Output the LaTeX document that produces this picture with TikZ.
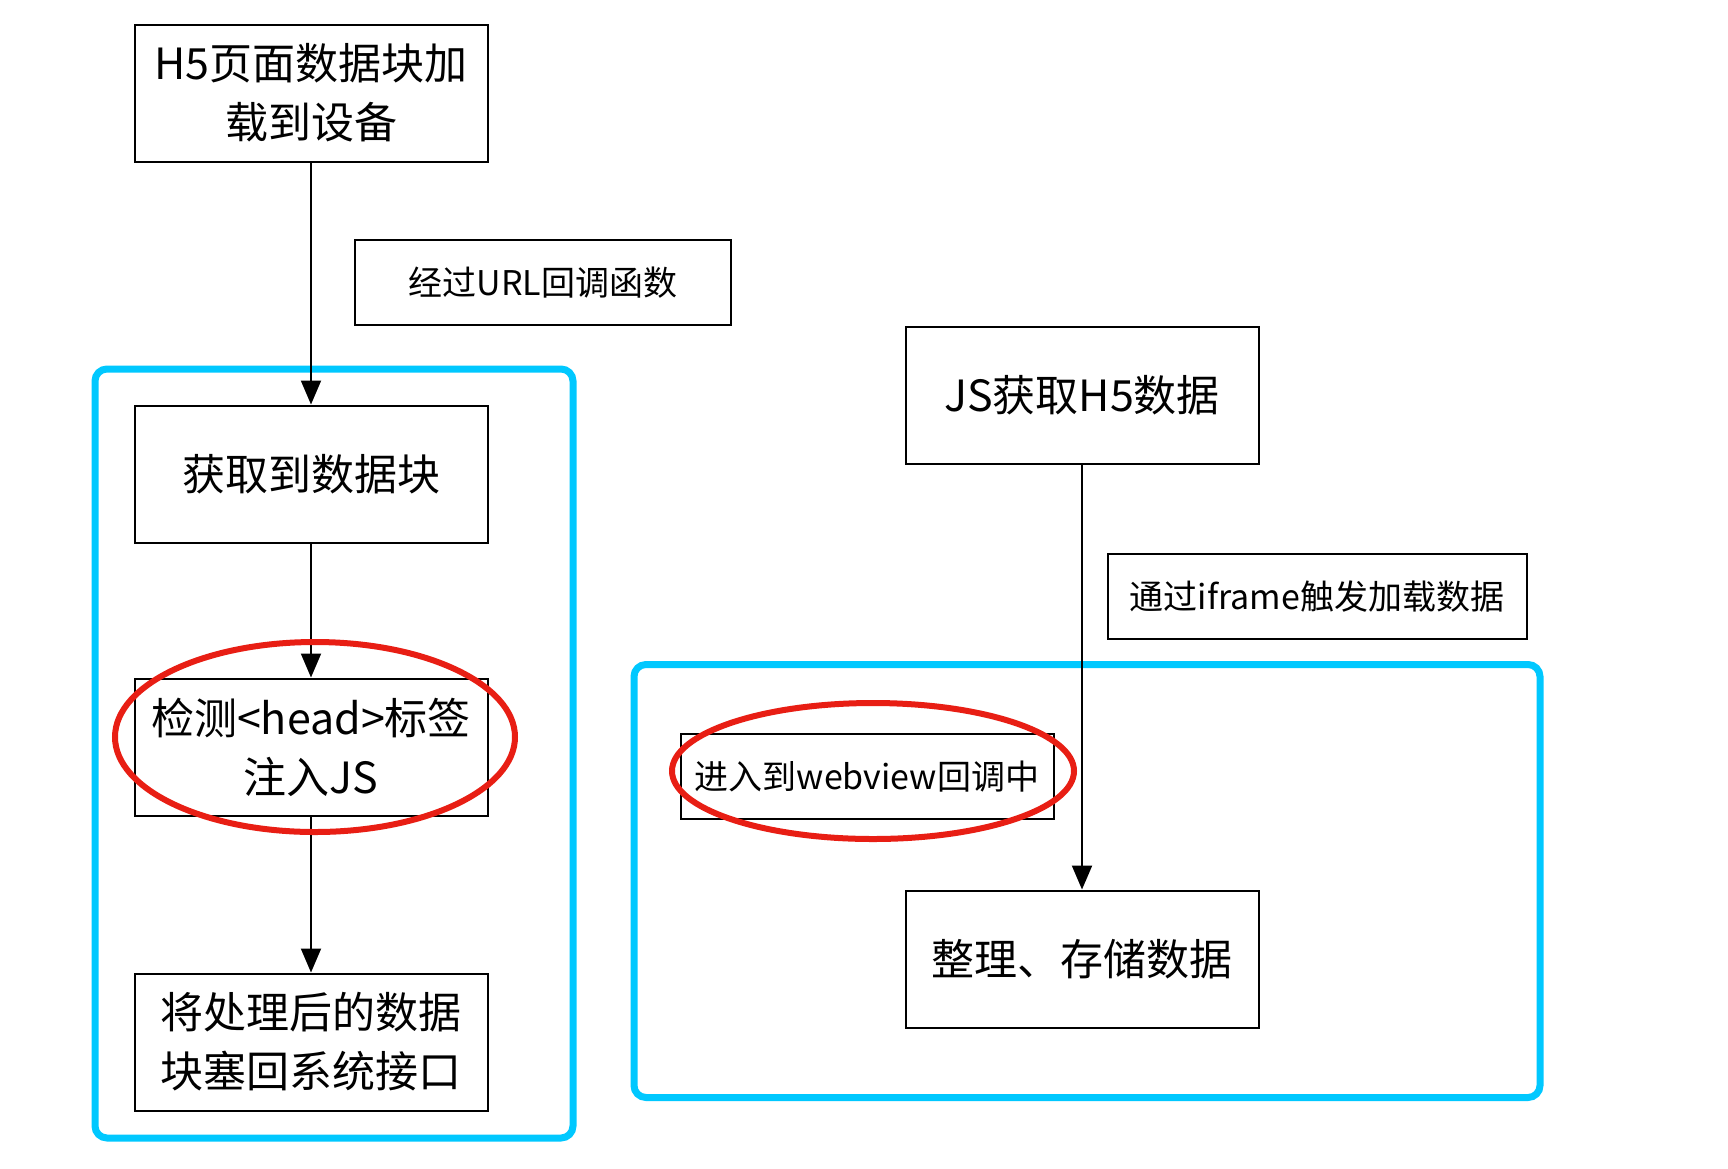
\documentclass[tikz,border=0pt]{standalone}
\usepackage{fontspec}
\setmainfont{Noto Sans CJK SC}
\usetikzlibrary{arrows.meta}
\definecolor{cyanbox}{RGB}{0,200,255}
\definecolor{redring}{RGB}{232,30,20}
\begin{document}
\begin{tikzpicture}[x=1pt,y=-1pt,
  box/.style={draw=black,line width=2pt,inner sep=0pt,align=center,minimum width=353pt,minimum height=137pt,font=\fontsize{43}{59}\selectfont},
  small/.style={draw=black,line width=2pt,inner sep=0pt,align=center,minimum height=85pt,font=\fontsize{34}{40}\selectfont},
  flow/.style={line width=2pt,-{Triangle[length=24pt,width=20pt]}},
  group/.style={draw=cyanbox,line width=7pt,rounded corners=12pt},
  ring/.style={draw=redring,line width=6pt}]
\useasboundingbox[fill=white] (0,0) rectangle (1728,1168);
% groups
\draw[group] (95,369) rectangle (573,1138);
\draw[group] (634,664.5) rectangle (1540,1097.5);
% left column
\node[box] (a) at (311,93) {H5页面数据块加\\载到设备};
\node[small,minimum width=376pt] (url) at (543,282.5) {经过URL回调函数};
\node[box] (b) at (311,474) {获取到数据块};
\node[box] (c) at (311,747) {检测<head>标签\\注入JS};
\node[box] (d) at (311,1042) {将处理后的数据\\块塞回系统接口};
% right column
\node[box] (js) at (1082,395) {JS获取H5数据};
\node[small,minimum width=419pt] (ifr) at (1317,596.5) {通过iframe触发加载数据};
\node[small,minimum width=373pt] (wv) at (867,776.5) {进入到webview回调中};
\node[box] (st) at (1082,959) {整理、存储数据};
% connectors
\draw[flow] (a) -- (b);
\draw[flow] (b) -- (c);
\draw[flow] (c) -- (d);
\draw[flow] (js) -- (st);
% highlight rings
\draw[ring] (315,737) ellipse [x radius=200, y radius=95];
\draw[ring] (873,771) ellipse [x radius=201, y radius=68];
\end{tikzpicture}
\end{document}
